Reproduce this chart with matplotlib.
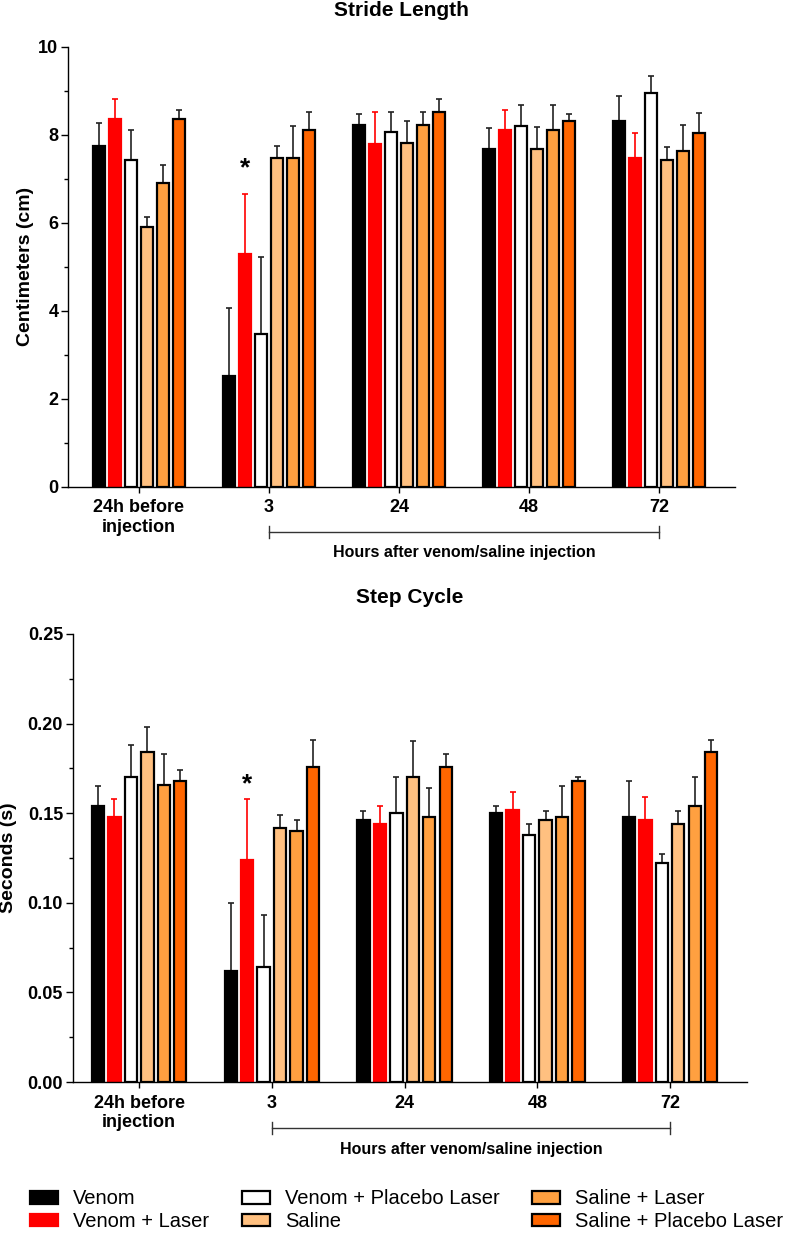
import numpy as np
from matplotlib import pyplot as plt
from matplotlib.ticker import MultipleLocator, FormatStrFormatter

plt.rcParams['font.family'] = ['Liberation Sans', 'DejaVu Sans']

groups = ['24h before\ninjection', '3', '24', '48', '72']
series = ['Venom', 'Venom + Laser', 'Venom + Placebo Laser', 'Saline',
          'Saline + Laser', 'Saline + Placebo Laser']
colors = ['black', '#ff0000', 'white', '#ffc080', '#ffa040', '#ff6600']
edges = ['black', '#ff0000', 'black', 'black', 'black', 'black']
err_colors = ['#222222', '#ff0000', '#222222', '#222222', '#222222', '#222222']

# stride length (cm), mean and upper error
stride_mean = [
    [7.75, 2.52, 8.21, 7.68, 8.32],
    [8.36, 5.29, 7.79, 8.11, 7.48],
    [7.42, 3.48, 8.07, 8.19, 8.95],
    [5.89, 7.47, 7.80, 7.67, 7.42],
    [6.90, 7.47, 8.23, 8.11, 7.63],
    [8.36, 8.11, 8.52, 8.31, 8.03],
]
stride_err = [
    [0.52, 1.55, 0.25, 0.48, 0.56],
    [0.44, 1.36, 0.72, 0.46, 0.55],
    [0.68, 1.75, 0.44, 0.48, 0.38],
    [0.23, 0.27, 0.52, 0.50, 0.31],
    [0.40, 0.73, 0.29, 0.56, 0.60],
    [0.20, 0.41, 0.29, 0.17, 0.46],
]

# step cycle (s), mean and upper error
step_mean = [
    [0.154, 0.062, 0.146, 0.150, 0.148],
    [0.148, 0.124, 0.144, 0.152, 0.146],
    [0.170, 0.064, 0.150, 0.138, 0.122],
    [0.184, 0.142, 0.170, 0.146, 0.144],
    [0.166, 0.140, 0.148, 0.148, 0.154],
    [0.168, 0.176, 0.176, 0.168, 0.184],
]
step_err = [
    [0.011, 0.038, 0.005, 0.004, 0.020],
    [0.010, 0.034, 0.010, 0.010, 0.013],
    [0.018, 0.029, 0.020, 0.006, 0.005],
    [0.014, 0.007, 0.020, 0.005, 0.007],
    [0.017, 0.006, 0.016, 0.017, 0.016],
    [0.006, 0.015, 0.007, 0.002, 0.007],
]

stride_star = 7.24
step_star = 0.166

step = 0.124
width = 0.093


def draw_panel(ax, means, errs, title_y, ylabel, ymax, major, minor, fmt,
               star_y, xlim, label_x, hours_font, hours_size):
    x = np.arange(len(groups))
    for i in range(len(series)):
        pos = x + (i - 2.5) * step
        m = np.array(means[i])
        e = np.array(errs[i])
        ax.errorbar(pos, m, yerr=[np.zeros_like(e), e], fmt='none',
                    ecolor=err_colors[i], elinewidth=1.2, capsize=2.5,
                    capthick=1.2, zorder=1)
        ax.bar(pos, m, width, color=colors[i], edgecolor=edges[i],
               linewidth=1.6, label=series[i], zorder=2)
    ax.text(1 + (1 - 2.5) * step, star_y, '*', ha='center', va='center',
            fontsize=19, fontweight='bold')

    ax.set_xlim(*xlim)
    ax.set_ylim(0, ymax)
    ax.set_xticks(x)
    ax.set_xticklabels(groups, fontsize=13, fontweight='bold')
    ax.yaxis.set_major_locator(MultipleLocator(major))
    ax.yaxis.set_minor_locator(MultipleLocator(minor))
    ax.yaxis.set_major_formatter(FormatStrFormatter(fmt))
    for lab in ax.get_yticklabels():
        lab.set_fontweight('bold')
        lab.set_fontsize(13)
    ax.tick_params(axis='y', which='major', length=5, width=1, pad=2)
    ax.tick_params(axis='y', which='minor', length=3, width=1)
    ax.tick_params(axis='x', length=4, width=1, pad=5)
    for s in ['top', 'right']:
        ax.spines[s].set_visible(False)
    for s in ['left', 'bottom']:
        ax.spines[s].set_linewidth(1.0)

    ax.set_ylabel(ylabel, fontsize=14, fontweight='bold')
    ax.yaxis.set_label_coords(label_x, 0.5)
    ax.set_title(title_y, fontsize=15, fontweight='bold', pad=22)

    # bracket under the hours groups
    tr = ax.get_xaxis_transform()
    ax.plot([1, 4], [-0.103, -0.103], color='#333333', lw=1.0,
            transform=tr, clip_on=False)
    for xx in [1, 4]:
        ax.plot([xx, xx], [-0.09, -0.117], color='#333333', lw=1.0,
                transform=tr, clip_on=False)
    ax.text(2.5, -0.15, 'Hours after venom/saline injection', transform=tr,
            ha='center', va='center', fontsize=hours_size, fontweight='bold',
            family=hours_font)


fig = plt.figure(figsize=(7.88, 12.37), dpi=100)
ax1 = fig.add_axes([0.0863, 0.6066, 0.8464, 0.3557])
ax2 = fig.add_axes([0.0923, 0.1253, 0.8557, 0.3622])

draw_panel(ax1, stride_mean, stride_err, 'Stride Length', 'Centimeters (cm)',
           10, 2, 1, '%d', stride_star, (-0.546, 4.585), -0.051,
           ['Liberation Sans Narrow', 'Liberation Sans'], 11.5)
draw_panel(ax2, step_mean, step_err, 'Step Cycle', 'Seconds (s)',
           0.25, 0.05, 0.025, '%.2f', step_star, (-0.50, 4.58), -0.083,
           ['Liberation Sans', 'DejaVu Sans'], 11.5)

handles, labels = ax1.get_legend_handles_labels()
fig.legend(handles, labels, ncol=3, loc='upper left',
           bbox_to_anchor=(30 / 788, 0.0385), frameon=False, fontsize=14.5,
           handlelength=1.4, handleheight=0.6, handletextpad=0.75,
           columnspacing=1.6, labelspacing=0.18, borderpad=0,
           borderaxespad=0)

fig.savefig('out.png', dpi=100)
